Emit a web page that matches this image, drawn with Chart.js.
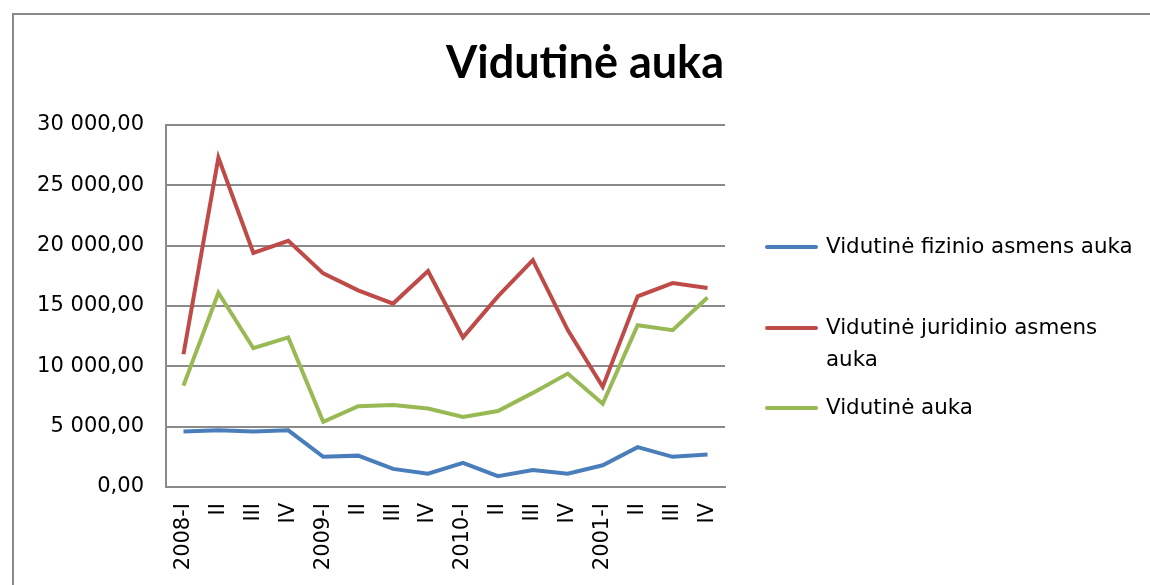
<!DOCTYPE html>
<html lang="lt">
<head>
  <meta charset="UTF-8" />
  <title>Vidutinė auka</title>
  <script src="https://cdn.jsdelivr.net/npm/chart.js"></script>
  <style>
    body {
      margin: 0;
      width: 1150px;
      height: 585px;
      overflow: hidden;
      background: #ffffff;
      font-family: 'DejaVu Sans', sans-serif;
    }
    .frame {
      position: absolute;
      left: 12px;
      top: 13px;
      width: 1200px;
      height: 700px;
      border-left: 2px solid #8a8a8a;
      border-top: 2px solid #8a8a8a;
    }
    #chart {
      position: absolute;
      left: 0;
      top: 0;
    }
    .title {
      position: absolute;
      left: 385px;
      width: 400px;
      top: 34px;
      text-align: center;
      font-family: 'Lato', sans-serif;
      font-weight: bold;
      font-size: 45px;
      line-height: 54px;
      color: #000;
    }
    .legend {
      position: absolute;
      left: 765px;
      top: 0;
      font-size: 21.4px;
      color: #000;
    }
    .legend .item {
      position: absolute;
      left: 0;
      white-space: nowrap;
    }
    .legend .swatch {
      position: absolute;
      left: 0;
      width: 53px;
      height: 4px;
      border-radius: 2px;
    }
    .legend .text {
      position: absolute;
      left: 61px;
      line-height: 32px;
    }
  </style>
</head>
<body>
  <div class="frame"></div>
  <canvas id="chart" width="1150" height="585"></canvas>
  <div class="title">Vidutinė auka</div>
  <div class="legend" id="legend"></div>

  <script>
    // quarters
    const categories = ['2008-I', 'II', 'III', 'IV', '2009-I', 'II', 'III', 'IV',
                        '2010-I', 'II', 'III', 'IV', '2001-I', 'II', 'III', 'IV'];

    // series values
    const fizinio = [4600, 4700, 4600, 4700, 2500, 2600, 1500, 1100,
                     2000, 900, 1400, 1100, 1800, 3300, 2500, 2700];
    const juridinio = [11000, 27300, 19400, 20400, 17700, 16300, 15200, 17900,
                       12400, 15800, 18800, 13000, 8300, 15800, 16900, 16500];
    const vidutine = [8400, 16100, 11500, 12400, 5400, 6700, 6800, 6500,
                      5800, 6300, 7800, 9400, 6900, 13400, 13000, 15700];

    const seriesNames = ['Vidutinė fizinio asmens auka', 'Vidutinė juridinio asmens auka', 'Vidutinė auka'];
    const seriesColors = ['#4a7ebb', '#be4b48', '#98b954'];

    const yTicks = [0, 5000, 10000, 15000, 20000, 25000, 30000];

    function formatNumber(v) {
      const whole = Math.round(v).toString().replace(/\B(?=(\d{3})+(?!\d))/g, ' ');
      return whole + ',00';
    }

    const font = "'DejaVu Sans', sans-serif";

    const ctx = document.getElementById('chart').getContext('2d');
    const chart = new Chart(ctx, {
      type: 'line',
      data: {
        labels: categories,
        datasets: [fizinio, juridinio, vidutine].map((d, i) => ({
          label: seriesNames[i],
          data: d,
          borderColor: seriesColors[i],
          backgroundColor: seriesColors[i],
          borderWidth: 4,
          pointRadius: 0,
          tension: 0,
          fill: false
        }))
      },
      options: {
        responsive: false,
        animation: false,
        layout: { padding: { left: 0, right: 425, top: 125, bottom: 0 } },
        plugins: {
          legend: { display: false },
          tooltip: { enabled: false },
          title: { display: false }
        },
        scales: {
          x: {
            offset: true,
            grid: { display: false, drawTicks: false },
            border: { display: true, color: '#8a8a8a', width: 2 },
            ticks: {
              color: '#000',
              font: { family: font, size: 21 },
              minRotation: 90,
              maxRotation: 90,
              padding: 16,
              autoSkip: false
            },
            afterFit: (scale) => { scale.height = 98; }
          },
          y: {
            min: 0,
            max: 30000,
            afterBuildTicks: (scale) => { scale.ticks = yTicks.map(v => ({ value: v })); },
            grid: { color: '#8a8a8a', lineWidth: 2, drawTicks: false },
            border: { display: true, color: '#8a8a8a', width: 2 },
            ticks: {
              color: '#000',
              font: { family: font, size: 21 },
              padding: 22,
              callback: (v) => formatNumber(v)
            },
            afterFit: (scale) => { scale.width = 166; }
          }
        }
      }
    });

    // legend on the right, wrapped like the original
    const legendItems = [
      { lines: ['Vidutinė fizinio asmens auka'], y: 247 },
      { lines: ['Vidutinė juridinio asmens', 'auka'], y: 328 },
      { lines: ['Vidutinė auka'], y: 408 }
    ];
    const legendEl = document.getElementById('legend');
    legendItems.forEach((item, i) => {
      const div = document.createElement('div');
      div.className = 'item';
      div.style.top = item.y + 'px';
      const sw = document.createElement('div');
      sw.className = 'swatch';
      sw.style.background = seriesColors[i];
      sw.style.top = '-2px';
      const tx = document.createElement('div');
      tx.className = 'text';
      tx.style.top = '-17px';
      tx.innerHTML = item.lines.join('<br>');
      div.appendChild(sw);
      div.appendChild(tx);
      legendEl.appendChild(div);
    });
  </script>
</body>
</html>
